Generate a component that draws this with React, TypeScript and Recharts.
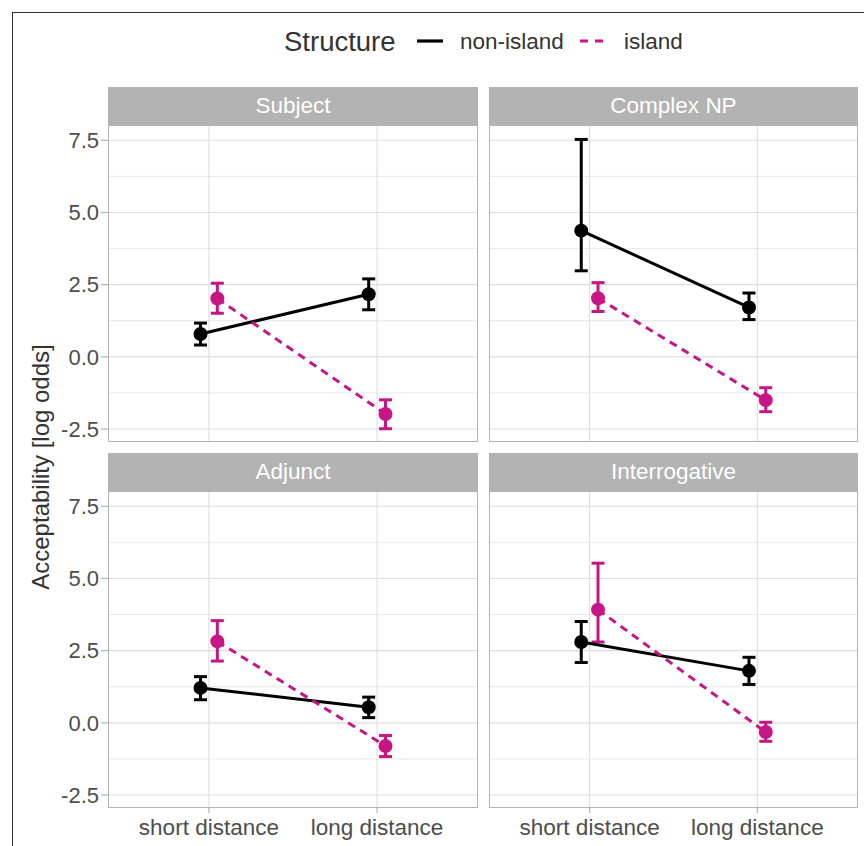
import React from 'react';
import { ComposedChart, Scatter, ErrorBar, XAxis, YAxis, CartesianGrid } from 'recharts';

const categories = ['short distance', 'long distance'];
const panels = ['Subject', 'Complex NP', 'Adjunct', 'Interrogative'];
const seriesNames = ['non-island', 'island'];

// per panel: [short distance, long distance]
const nonIslandMean = [[0.79, 2.17], [4.37, 1.71], [1.21, 0.54], [2.8, 1.8]];
const nonIslandLow = [[0.41, 1.63], [2.98, 1.29], [0.8, 0.18], [2.09, 1.33]];
const nonIslandHigh = [[1.17, 2.7], [7.53, 2.21], [1.6, 0.89], [3.51, 2.27]];
const islandMean = [[2.02, -1.98], [2.03, -1.5], [2.82, -0.8], [3.92, -0.32]];
const islandLow = [[1.51, -2.49], [1.57, -1.9], [2.14, -1.17], [2.8, -0.64]];
const islandHigh = [[2.55, -1.49], [2.57, -1.07], [3.54, -0.44], [5.53, 0.02]];

const yTicks = [-2.5, 0, 2.5, 5, 7.5];
const yMinor = [-1.25, 1.25, 3.75, 6.25];

const FONT = '"Liberation Sans", Arial, Helvetica, sans-serif';
const MAGENTA = '#C71585';
const GREY70 = '#B3B3B3';
const GRID = '#DEDEDE';
const DODGE = 0.05;

const colLeft = [108, 489];
const colWidth = [370, 369];
const rowTop = [125, 491];
const PANEL_H = 317;
const STRIP_H = 38;
const Y_AXIS_W = 108;
const X_AXIS_H = 40;

function buildSeries(mean: number[], low: number[], high: number[], offset: number) {
  return mean.map((m, i) => ({ x: i + 1 + offset, y: m, err: [m - low[i], high[i] - m] }));
}

function Panel({ idx }: { idx: number }) {
  const col = idx % 2;
  const row = Math.floor(idx / 2);
  const showY = col === 0;
  const showX = row === 1;
  const plotLeft = colLeft[col];
  const plotTop = rowTop[row];
  const w = colWidth[col] + (showY ? Y_AXIS_W : 0);
  const h = PANEL_H + (showX ? X_AXIS_H : 0);
  const nonIsland = buildSeries(nonIslandMean[idx], nonIslandLow[idx], nonIslandHigh[idx], -DODGE);
  const island = buildSeries(islandMean[idx], islandLow[idx], islandHigh[idx], DODGE);

  return (
    <>
      <div
        style={{
          position: 'absolute',
          left: plotLeft,
          top: plotTop - STRIP_H,
          width: colWidth[col],
          height: STRIP_H,
          background: GREY70,
          color: '#fff',
          fontSize: 22.5,
          lineHeight: `${STRIP_H}px`,
          textAlign: 'center',
        }}
      >
        {panels[idx]}
      </div>
      <div style={{ position: 'absolute', left: plotLeft - (showY ? Y_AXIS_W : 0), top: plotTop }}>
        <ComposedChart width={w} height={h} margin={{ top: 0, right: 0, bottom: 0, left: 0 }}>
          <CartesianGrid horizontalValues={yMinor} vertical={false} stroke={GRID} strokeWidth={0.7} />
          <CartesianGrid horizontalValues={yTicks} verticalValues={[1, 2]} stroke={GRID} strokeWidth={1.1} />
          <XAxis
            type="number"
            dataKey="x"
            domain={[0.4, 2.6]}
            ticks={[1, 2]}
            interval={0}
            allowDataOverflow
            hide={!showX}
            height={showX ? X_AXIS_H : 0}
            axisLine={false}
            tickSize={5}
            tickMargin={6}
            tickLine={{ stroke: GREY70, strokeWidth: 1.2 }}
            tick={{ fill: '#4D4D4D', fontSize: 22.5, fontFamily: FONT }}
            tickFormatter={(v: number) => categories[v - 1]}
          />
          <YAxis
            type="number"
            dataKey="y"
            domain={[-2.95, 8.03]}
            ticks={yTicks}
            interval={0}
            allowDataOverflow
            hide={!showY}
            width={showY ? Y_AXIS_W : 0}
            axisLine={false}
            tickSize={7}
            tickMargin={2}
            tickLine={{ stroke: GREY70, strokeWidth: 1.2 }}
            tick={{ fill: '#4D4D4D', fontSize: 22, fontFamily: FONT }}
            tickFormatter={(v: number) => v.toFixed(1)}
          />
          <Scatter
            name={seriesNames[0]}
            data={nonIsland}
            fill="#000"
            isAnimationActive={false}
            line={{ stroke: '#000', strokeWidth: 3 }}
            shape={(p: any) => <circle cx={p.cx} cy={p.cy} r={7} fill="#000" />}
          >
            <ErrorBar dataKey="err" direction="y" width={6.5} stroke="#000" strokeWidth={3} isAnimationActive={false} />
          </Scatter>
          <Scatter
            name={seriesNames[1]}
            data={island}
            fill={MAGENTA}
            isAnimationActive={false}
            line={{ stroke: MAGENTA, strokeWidth: 3, strokeDasharray: '8 6' }}
            shape={(p: any) => <circle cx={p.cx} cy={p.cy} r={7} fill={MAGENTA} />}
          >
            <ErrorBar dataKey="err" direction="y" width={6.5} stroke={MAGENTA} strokeWidth={3} isAnimationActive={false} />
          </Scatter>
        </ComposedChart>
      </div>
      <div
        style={{
          position: 'absolute',
          left: plotLeft,
          top: plotTop,
          width: colWidth[col],
          height: PANEL_H,
          border: `1.3px solid ${GREY70}`,
          boxSizing: 'border-box',
          pointerEvents: 'none',
        }}
      />
    </>
  );
}

const legendText: React.CSSProperties = {
  position: 'absolute',
  top: 24,
  height: 36,
  lineHeight: '36px',
  whiteSpace: 'nowrap',
  color: '#333',
};

export default function App() {
  return (
    <div
      style={{
        position: 'absolute',
        left: 0,
        top: 0,
        width: 864,
        height: 846,
        overflow: 'hidden',
        background: '#fff',
        fontFamily: FONT,
      }}
    >
      <div
        style={{
          position: 'absolute',
          left: 12,
          top: 12,
          width: 900,
          height: 900,
          border: '1.5px solid #333',
        }}
      />
      {/* legend */}
      <span style={{ ...legendText, left: 284, fontSize: 27.5 }}>Structure</span>
      <svg width={26} height={10} style={{ position: 'absolute', left: 417, top: 36 }}>
        <line x1={0} y1={5} x2={26} y2={5} stroke="#000" strokeWidth={3.2} />
      </svg>
      <span style={{ ...legendText, left: 460, fontSize: 22.5 }}>{seriesNames[0]}</span>
      <svg width={24} height={10} style={{ position: 'absolute', left: 580, top: 36 }}>
        <line x1={0} y1={5} x2={24} y2={5} stroke={MAGENTA} strokeWidth={3.2} strokeDasharray="8 7" />
      </svg>
      <span style={{ ...legendText, left: 624, fontSize: 22.5 }}>{seriesNames[1]}</span>
      {/* y axis title */}
      <div
        style={{
          position: 'absolute',
          left: 41,
          top: 467,
          transform: 'translate(-50%, -50%) rotate(-90deg)',
          whiteSpace: 'nowrap',
          fontSize: 24,
          color: '#333',
        }}
      >
        Acceptability [log odds]
      </div>
      {panels.map((_, i) => (
        <Panel key={i} idx={i} />
      ))}
    </div>
  );
}
